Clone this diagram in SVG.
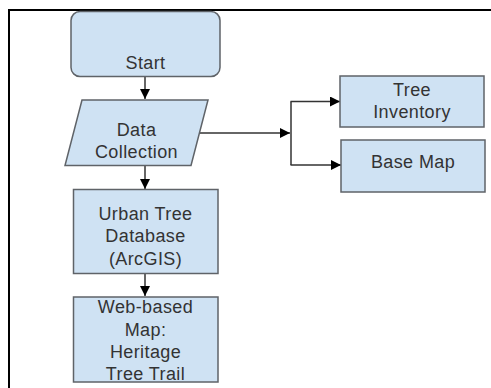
<svg xmlns="http://www.w3.org/2000/svg" width="491" height="388" viewBox="0 0 491 388">
<defs>
<style>
.n{fill:#cfe2f3;stroke:#5f6368;stroke-width:1.5}
.t{font-family:"Liberation Sans",Arial,sans-serif;font-size:18px;fill:#333;text-anchor:middle;letter-spacing:0.4px}
.c{fill:none;stroke:#333;stroke-width:1.5}
.b{fill:none;stroke:#000;stroke-width:2}
</style>
<marker id="ah" viewBox="0 0 10 10" refX="10" refY="5" markerWidth="10" markerHeight="10" markerUnits="userSpaceOnUse" orient="auto">
<path d="M0,0 L10,5 L0,10 z" fill="#000"/>
</marker>
</defs>
<rect width="491" height="388" fill="#fff"/>
<path class="b" d="M9,388 V10 H491"/>
<g id="connectors">
<path class="c" d="M145,77 V99" marker-end="url(#ah)"/>
<path class="c" d="M145,166 V189" marker-end="url(#ah)"/>
<path class="c" d="M145,274 V296" marker-end="url(#ah)"/>
<path class="c" d="M197,133 H290" marker-end="url(#ah)"/>
<path class="c" d="M291,101.5 V165"/>
<path class="c" d="M290.5,101.5 H340" marker-end="url(#ah)"/>
<path class="c" d="M290.5,165 H341" marker-end="url(#ah)"/>
</g>
<g id="start">
<rect class="n" x="71" y="11.5" width="149" height="65" rx="9"/>
<text class="t" x="145.5" y="69">Start</text>
</g>
<g id="data">
<polygon class="n" points="82,100 208,100 191,165.5 65,165.5"/>
<text class="t" x="136.5" y="136">Data</text>
<text class="t" x="136.5" y="158">Collection</text>
</g>
<g id="inventory">
<rect class="n" x="340" y="76" width="144" height="51"/>
<text class="t" x="412" y="96">Tree</text>
<text class="t" x="412" y="118">Inventory</text>
</g>
<g id="basemap">
<rect class="n" x="341" y="140" width="144" height="52"/>
<text class="t" x="413" y="168">Base Map</text>
</g>
<g id="database">
<rect class="n" x="73.5" y="189.5" width="144.5" height="84"/>
<text class="t" x="145.5" y="220">Urban Tree</text>
<text class="t" x="145.5" y="242">Database</text>
<text class="t" x="145.5" y="265">(ArcGIS)</text>
</g>
<g id="webmap">
<rect class="n" x="73.5" y="297" width="144.5" height="85"/>
<text class="t" x="145.5" y="313">Web-based</text>
<text class="t" x="145.5" y="336">Map:</text>
<text class="t" x="145.5" y="358">Heritage</text>
<text class="t" x="145.5" y="380">Tree Trail</text>
</g>
</svg>
